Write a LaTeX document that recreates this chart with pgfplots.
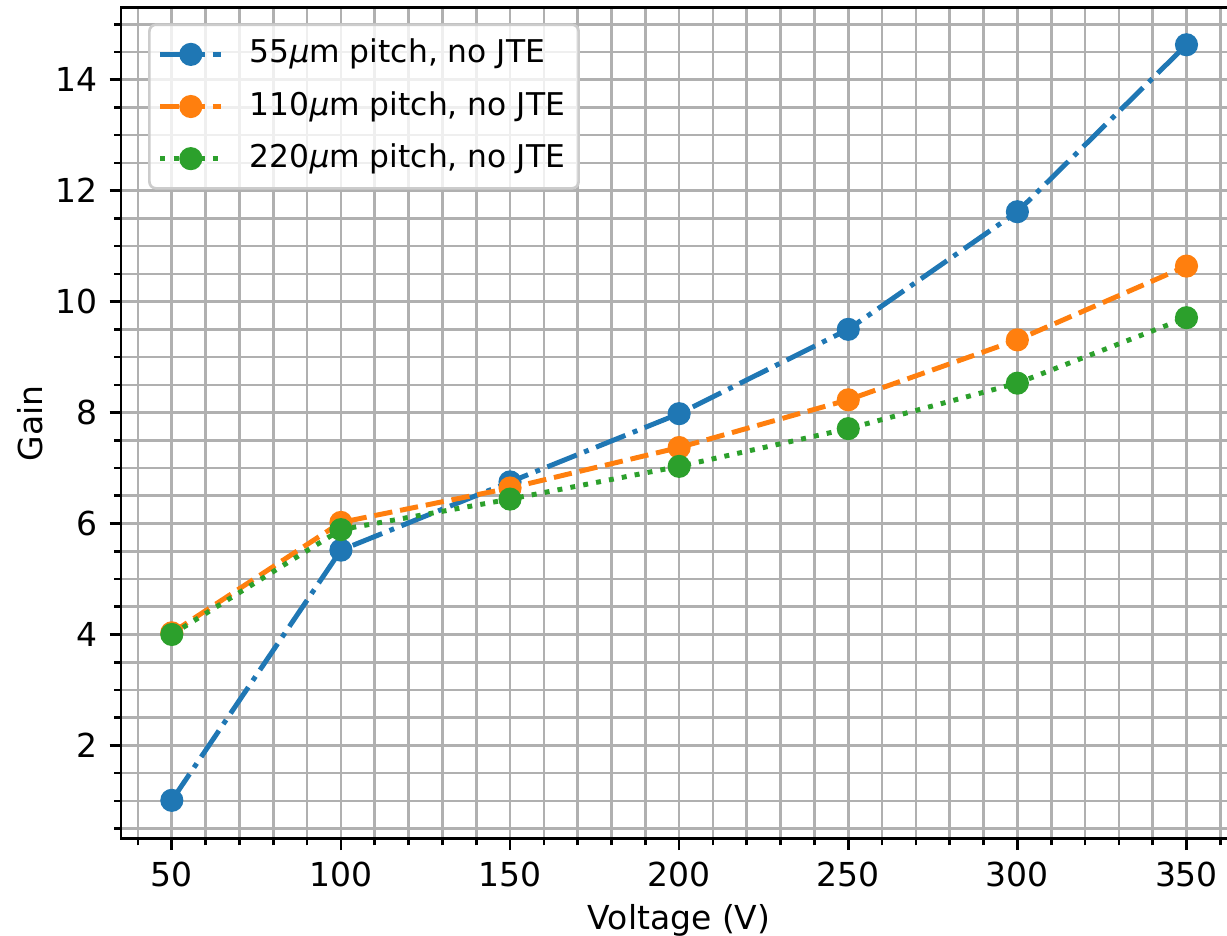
\documentclass[border=0pt]{standalone}
\usepackage{pgfplots}
\pgfplotsset{compat=1.18}
\usepackage{fontspec}
\setmainfont{DejaVu Sans}
\definecolor{cblue}{HTML}{1F77B4}
\definecolor{corange}{HTML}{FF7F0E}
\definecolor{cgreen}{HTML}{2CA02C}
\definecolor{gridc}{HTML}{B0B0B0}
\definecolor{legc}{HTML}{CCCCCC}
\begin{document}
\begin{tikzpicture}
\path[use as bounding box] (-36.7pt,-29.4pt) rectangle (335.2pt,254.2pt);
\begin{axis}[
  scale only axis,
  width=338.3pt, height=251.9pt,
  xmin=35, xmax=365, ymin=0.319, ymax=15.30,
  xtick={50,100,...,350},
  ytick={2,4,...,14},
  minor xtick={40,60,70,80,90,110,120,130,140,160,170,180,190,210,220,230,240,260,270,280,290,310,320,330,340,360},
  minor ytick={0.5,1,1.5,2.5,3,3.5,4.5,5,5.5,6.5,7,7.5,8.5,9,9.5,10.5,11,11.5,12.5,13,13.5,14.5,15},
  grid=both,
  major grid style={color=gridc, line width=0.8pt},
  minor grid style={color=gridc, line width=0.8pt},
  tick align=outside,
  xtick pos=left, ytick pos=left,
  major tick length=3.5pt, minor tick length=2pt,
  every tick/.style={black, line width=0.8pt},
  axis line style={line width=0.8pt},
  tick label style={font=\fontsize{10}{12}\selectfont},
  /pgf/number format/assume math mode=true,
  xlabel={Voltage (V)}, ylabel={Gain},
  label style={font=\fontsize{10}{12}\selectfont},
  xlabel style={yshift=1.6pt},
  ylabel style={yshift=-3pt},
  legend cell align=left,
  legend image code/.code={\draw[mark repeat=2,mark phase=2,#1,fill opacity=1,draw opacity=1] plot coordinates {(0pt,0pt) (9.2pt,0pt) (18.4pt,0pt)};},
  legend style={at={(axis description cs:0.0242,0.981)}, anchor=north west,
    draw=legc, line width=0.8pt, rounded corners=2pt, fill=white, fill opacity=0.8, text opacity=1,
    font=\fontsize{9.5}{11.5}\selectfont, inner sep=2.6pt, row sep=3.0pt, column sep=6.4pt,
    nodes={inner sep=1.5pt, text height=7.5pt, text depth=2.3pt}},
]
\addplot[color=cblue, line width=1.5pt, dash pattern=on 9.6pt off 2.4pt on 1.5pt off 2.4pt,
  mark=*, mark size=3pt, mark options={solid, line width=1pt, fill=cblue}]
  coordinates {(50,1.01) (100,5.52) (150,6.75) (200,7.98) (250,9.5) (300,11.62) (350,14.63)};
\addlegendentry{55\textit{μ}m pitch, no JTE}
\addplot[color=corange, line width=1.5pt, dash pattern=on 5.55pt off 2.4pt,
  mark=*, mark size=3pt, mark options={solid, line width=1pt, fill=corange}]
  coordinates {(50,4.03) (100,6.02) (150,6.64) (200,7.37) (250,8.23) (300,9.31) (350,10.64)};
\addlegendentry{110\textit{μ}m pitch, no JTE}
\addplot[color=cgreen, line width=1.5pt, dash pattern=on 1.5pt off 2.47pt,
  mark=*, mark size=3pt, mark options={solid, line width=1pt, fill=cgreen}]
  coordinates {(50,4.0) (100,5.89) (150,6.44) (200,7.03) (250,7.71) (300,8.53) (350,9.71)};
\addlegendentry{220\textit{μ}m pitch, no JTE}
\end{axis}
\end{tikzpicture}
\end{document}
